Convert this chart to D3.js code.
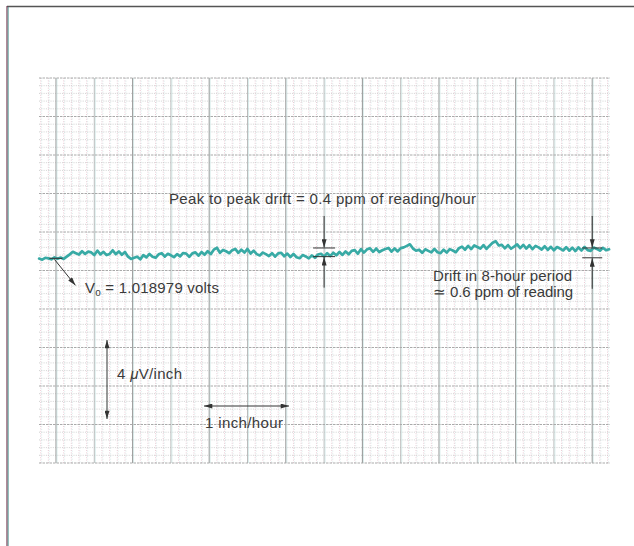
<!DOCTYPE html>
<html>
<head>
<meta charset="utf-8">
<script src="https://cdn.jsdelivr.net/npm/d3@7"></script>
<style>
  html, body { margin: 0; padding: 0; background: #fff; }
  svg { display: block; }
  text { font-family: "Liberation Sans", Arial, Helvetica, sans-serif; fill: #3a3a3a; }
</style>
</head>
<body>
<svg id="chart" width="634" height="546"></svg>
<script>
// ---- data ----
// drift of output voltage, microvolts relative to chart centre, sampled every 0.04 hour
const sampleStartHour = -0.22;
const sampleStepHour = 0.04;
const driftMicroVolts = [
  0.62,0.56,0.66,0.63,0.58,0.68,0.61,0.67,0.60,0.72,
  0.84,0.97,0.90,0.83,1.00,0.86,0.98,0.94,0.80,1.03,
  0.84,0.97,0.80,0.86,1.05,0.85,0.99,0.82,0.96,0.72,
  0.60,0.66,0.72,0.58,0.80,0.68,0.86,0.72,0.66,0.84,
  0.90,0.72,0.87,0.79,0.69,0.85,0.73,0.91,0.88,0.71,
  0.89,0.94,0.77,0.96,0.82,1.00,0.85,1.08,1.18,0.92,
  1.07,1.00,0.90,1.05,1.12,0.92,1.08,0.93,1.12,0.88,
  1.03,0.85,0.78,0.93,0.85,0.75,0.90,0.72,0.89,0.92,
  0.74,0.88,0.70,0.86,0.69,0.64,0.80,0.73,0.63,0.78,
  0.66,0.83,0.87,0.72,0.90,0.75,0.92,0.79,0.96,0.81,
  0.99,0.84,1.02,1.06,0.87,1.11,0.93,1.10,1.15,0.97,
  1.14,0.96,1.05,1.12,1.17,0.98,1.15,0.99,1.16,1.20,
  1.28,1.36,1.14,1.03,1.08,0.92,1.10,1.02,0.94,1.12,
  0.95,0.90,1.08,0.93,1.11,1.04,0.95,1.16,1.24,1.08,
  1.28,1.11,1.30,1.22,1.14,1.32,1.12,1.29,1.44,1.52,
  1.30,1.33,1.15,1.32,1.13,1.24,1.36,1.16,1.33,1.14,
  1.31,1.11,1.28,1.20,1.09,1.26,1.07,1.23,1.05,1.22,
  1.14,1.04,1.21,1.03,1.19,1.01,1.20,1.04,1.22,1.06,
  1.02,1.19,1.12,1.03,1.18,1.05,1.10
];
// annotation markers: hour position and the two levels (microvolts) bracketed
const peakMarkerHour = 3.5;
const peakMarkerLevels = [0.72, 1.17];
const driftMarkerHour = 7.0;
const driftMarkerLevels = [0.66, 1.17];
// chart paper extent
const hourDomain = [-0.222, 7.232];
const microVoltDomain = [-10, 10];

// ---- drawing ----
const svg = d3.select("#chart");
const x = d3.scaleLinear().domain(hourDomain).range([39, 610]);
const y = d3.scaleLinear().domain(microVoltDomain).range([463, 78]);

// page frame
svg.append("line").attr("x1", 7).attr("x2", 634).attr("y1", 6.5).attr("y2", 6.5)
  .attr("stroke", "#555").attr("stroke-width", 1.6);
svg.append("line").attr("x1", 7).attr("x2", 7).attr("y1", 6).attr("y2", 546)
  .attr("stroke", "#7a3f55").attr("stroke-width", 1.2);
svg.append("line").attr("x1", 8.2).attr("x2", 8.2).attr("y1", 7).attr("y2", 546)
  .attr("stroke", "#3f8f8c").attr("stroke-width", 0.8);

const grid = svg.append("g");
const [x0, x1] = x.range();
const [yb, yt] = y.range();

// minor verticals every 0.1 hour
const minorHours = d3.range(-2, 73).map(i => i / 10).filter(h => Math.round(h * 10) % 5 !== 0);
grid.selectAll("line.mvp").data(minorHours).join("line")
  .attr("x1", d => x(d)).attr("x2", d => x(d)).attr("y1", yt).attr("y2", yb)
  .attr("stroke", "#e3bdc9").attr("stroke-width", 0.8).attr("stroke-dasharray", "1,1.4");
grid.selectAll("line.mvt").data(minorHours).join("line")
  .attr("x1", d => x(d) + 1).attr("x2", d => x(d) + 1).attr("y1", yt).attr("y2", yb)
  .attr("stroke", "#c2e1df").attr("stroke-width", 0.6).attr("stroke-dasharray", "1,1.7");

// minor horizontals every 0.4 microvolt
const minorUV = d3.range(-25, 26).map(i => i * 0.4).filter(v => Math.round(v * 10) % 20 !== 0);
grid.selectAll("line.mh").data(minorUV).join("line")
  .attr("x1", x0).attr("x2", x1).attr("y1", d => y(d)).attr("y2", d => y(d))
  .attr("stroke", "#c6c6c6").attr("stroke-width", 0.8).attr("stroke-dasharray", "1,1.3");

// major verticals every 0.5 hour (heavier each hour)
const majorHours = d3.range(0, 15).map(i => i / 2);
grid.selectAll("line.Mv").data(majorHours).join("line")
  .attr("x1", d => x(d)).attr("x2", d => x(d)).attr("y1", yt).attr("y2", yb)
  .attr("stroke", d => (d % 1 === 0 ? "#9c9c9c" : "#b3b3b3"))
  .attr("stroke-width", d => (d % 1 === 0 ? 1.1 : 0.9));
grid.selectAll("line.Mvt").data(majorHours).join("line")
  .attr("x1", d => x(d) + 1).attr("x2", d => x(d) + 1).attr("y1", yt).attr("y2", yb)
  .attr("stroke", "#c4e3e1").attr("stroke-width", 0.6);

// major horizontals every 2 microvolts
const majorUV = d3.range(-5, 6).map(i => i * 2);
grid.selectAll("line.Mh").data(majorUV).join("line")
  .attr("x1", x0).attr("x2", x1).attr("y1", d => y(d)).attr("y2", d => y(d))
  .attr("stroke", "#aaaaaa").attr("stroke-width", 1).attr("stroke-dasharray", "2.5,1");

// arrowhead marker
const defs = svg.append("defs");
defs.append("marker").attr("id", "ah").attr("viewBox", "0 0 10 6")
  .attr("refX", 10).attr("refY", 3).attr("markerWidth", 9).attr("markerHeight", 5)
  .attr("markerUnits", "userSpaceOnUse").attr("orient", "auto-start-reverse")
  .append("path").attr("d", "M0,0 L10,3 L0,6 Z").attr("fill", "#333");

// trace
const line = d3.line()
  .x((d, i) => x(sampleStartHour + i * sampleStepHour))
  .y(d => y(d))
  .curve(d3.curveLinear);
svg.append("path").datum(driftMicroVolts).attr("d", line)
  .attr("fill", "none").attr("stroke", "#38aaa5").attr("stroke-width", 2.7)
  .attr("stroke-linejoin", "round").attr("stroke-linecap", "round");

const ann = svg.append("g").attr("stroke", "#333").attr("stroke-width", 1);

function bracket(hour, levels, halfWidth) {
  const cx = x(hour);
  const lo = y(levels[0]), hi = y(levels[1]);
  ann.append("line").attr("x1", cx - halfWidth).attr("x2", cx + halfWidth)
    .attr("y1", hi).attr("y2", hi);
  ann.append("line").attr("x1", cx - halfWidth).attr("x2", cx + halfWidth)
    .attr("y1", lo).attr("y2", lo);
  ann.append("line").attr("x1", cx).attr("x2", cx).attr("y1", hi - 32).attr("y2", hi - 0.5)
    .attr("marker-end", "url(#ah)");
  ann.append("line").attr("x1", cx).attr("x2", cx).attr("y1", lo + 31).attr("y2", lo + 0.5)
    .attr("marker-end", "url(#ah)");
}
bracket(peakMarkerHour, peakMarkerLevels, 11);
bracket(driftMarkerHour, driftMarkerLevels, 10);

// V0 pointer
const v0x = x(sampleStartHour + 4 * sampleStepHour), v0y = y(driftMicroVolts[4]);
ann.append("line").attr("x1", v0x - 2).attr("x2", v0x + 11).attr("y1", v0y - 1).attr("y2", v0y - 1);
ann.append("line").attr("x1", v0x + 3).attr("y1", v0y).attr("x2", v0x + 24).attr("y2", v0y + 26)
  .attr("marker-end", "url(#ah)");

// scale arrows
ann.append("line").attr("x1", 107).attr("x2", 107).attr("y1", 340).attr("y2", 419)
  .attr("marker-start", "url(#ah)").attr("marker-end", "url(#ah)");
ann.append("line").attr("x1", 204).attr("x2", 289).attr("y1", 406).attr("y2", 406)
  .attr("marker-start", "url(#ah)").attr("marker-end", "url(#ah)");

// texts
const fs = 15;
function label(tx, ty, width) {
  return svg.append("text").attr("x", tx).attr("y", ty).attr("font-size", fs)
    .attr("textLength", width).attr("lengthAdjust", "spacing");
}
label(169, 204, 307).text("Peak to peak drift = 0.4 ppm of reading/hour");
label(433, 281, 139).text("Drift in 8-hour period");
label(433, 297, 140).text("\u2243 0.6 ppm of reading");
const vt = label(85, 293, 134);
vt.append("tspan").text("V");
vt.append("tspan").attr("font-size", 10).attr("dy", 3).text("o");
vt.append("tspan").attr("dy", -3).text(" = 1.018979 volts");
const ut = label(117, 379, 65);
ut.append("tspan").text("4 ");
ut.append("tspan").attr("font-style", "italic").text("\u03bc");
ut.append("tspan").text("V/inch");
label(205, 428, 78).text("1 inch/hour");
</script>
</body>
</html>
